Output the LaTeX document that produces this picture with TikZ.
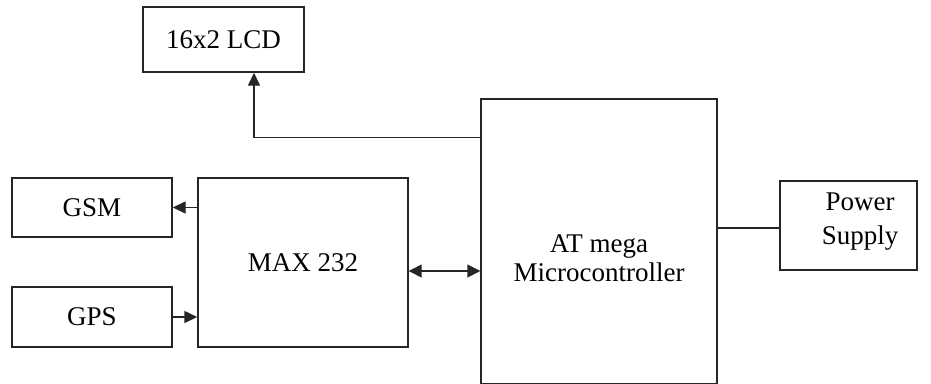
\documentclass[tikz,border=0pt]{standalone}
\usepackage{fontspec}
\setmainfont{Liberation Serif}
\usetikzlibrary{arrows.meta}
\begin{document}
\begin{tikzpicture}[x=1pt,y=-1pt,
  blk/.style={draw=black!85, line width=1.4pt, fill=white, inner sep=0pt, font=\fontsize{27}{29}\selectfont},
  txt/.style={inner sep=0pt, align=center, font=\fontsize{27}{29}\selectfont},
  conn/.style={draw=black!85, line width=1.4pt},
  arr/.style={conn, -{Triangle[length=13pt,width=12pt]}},
  darr/.style={conn, {Triangle[length=13pt,width=13pt]}-{Triangle[length=13pt,width=13pt]}}]
\useasboundingbox (0,0) rectangle (931,383);
\node[blk, minimum width=161pt, minimum height=65pt] (lcd) at (223.5,39.5) {16x2 LCD};
\node[blk, minimum width=160pt, minimum height=59pt] (gsm) at (92,207.5) {GSM};
\node[blk, minimum width=160pt, minimum height=60pt] (gps) at (92,317) {GPS};
\node[blk, minimum width=210pt, minimum height=169pt] (max) at (303,262.5) {MAX 232};
\node[blk, minimum width=236pt, minimum height=285pt] (at) at (599,241.5) {};
\node[txt] (attxt) at (599,258) {AT mega\\Microcontroller};
\node[blk, minimum width=137pt, minimum height=89pt] (pow) at (848.5,225.5) {};
\node[txt, font=\fontsize{27}{34}\selectfont] (powtxt) at (860,222) {Power\\Supply};
\draw[arr] (at.north west) ++(0,39) -| ([xshift=30.5pt]lcd.south);
\draw[arr] (max.west |- gsm.east) -- (gsm.east);
\draw[arr] (gps.east) -- (gps.east -| max.west);
\draw[darr] ([yshift=-8.5pt]max.east) -- ([yshift=-8.5pt]max.east -| at.west);
\draw[conn] ([yshift=-2.5pt]pow.west -| at.east) -- ([yshift=-2.5pt]pow.west);
\end{tikzpicture}
\end{document}
